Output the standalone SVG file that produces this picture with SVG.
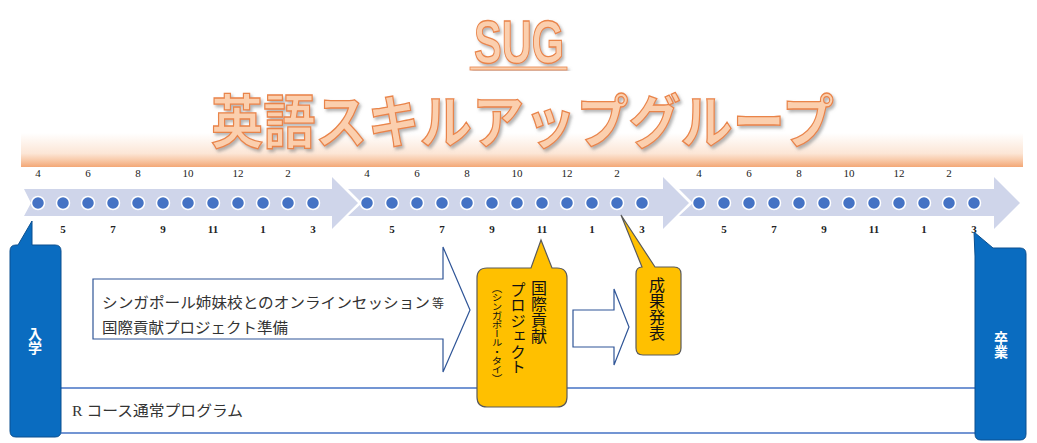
<svg xmlns="http://www.w3.org/2000/svg" width="1037" height="443" viewBox="0 0 1037 443">
<defs>
<style>
.num{font-family:"Liberation Serif",serif;font-size:11px;fill:#222;text-anchor:middle}
.numb{font-family:"Liberation Serif",serif;font-size:11px;fill:#222;text-anchor:middle;font-weight:bold}
.dot{fill:#4472c4;stroke:#fff;stroke-width:1.5}
.tl{fill:#cfd5ea}
.jp{font-family:"Liberation Serif","Noto Sans CJK JP",serif;fill:#333}
.vt{font-family:"Noto Sans CJK JP",sans-serif;writing-mode:vertical-rl;fill:#111}
.wt{font-family:"Noto Sans CJK JP",sans-serif;font-weight:bold;fill:#fff;font-size:14px;writing-mode:vertical-rl}
.hollow{fill:#fff;stroke:#2f5597;stroke-width:1.2}
.blue{fill:#0a6cc0;stroke:#0b4f8f;stroke-width:1}
.orange{fill:#ffc000;stroke:#5a5a5a;stroke-width:1.2}
.rule{stroke:#4472c4;stroke-width:1.6;fill:none}
.ttl{fill:#fbcfae;stroke:#e9844a;stroke-width:1.3;font-weight:bold}
</style>
<linearGradient id="band" x1="0" y1="0" x2="0" y2="1">
<stop offset="0" stop-color="#ffffff"/>
<stop offset="0.6" stop-color="#fce6d6"/>
<stop offset="0.8" stop-color="#f8c9a8"/>
<stop offset="1" stop-color="#f3a776"/>
</linearGradient>
<filter id="sh" x="-10%" y="-10%" width="130%" height="140%">
<feDropShadow dx="2" dy="2.5" stdDeviation="1.5" flood-color="#777" flood-opacity="0.55"/>
</filter>
</defs>

<g id="title">
<rect x="21" y="133" width="1002" height="34" fill="url(#band)"/>
<text class="ttl" x="474" y="63" font-family="Liberation Sans,sans-serif" font-size="62" textLength="90" lengthAdjust="spacingAndGlyphs" filter="url(#sh)">SUG</text>
<rect x="470" y="67" width="97" height="3" fill="#fbcfae" stroke="#e9844a" stroke-width="0.8" filter="url(#sh)"/>
<text class="ttl" x="211" y="143" font-family="Noto Sans CJK JP,sans-serif" font-size="58" textLength="623" lengthAdjust="spacingAndGlyphs" filter="url(#sh)">英語スキルアップグループ</text>
</g>

<g id="timeline">
<path class="tl" d="M24,189 L332,189 L332,177 L358,203 L332,229 L332,216 L24,216 L31,203 Z"/>
<path class="tl" d="M348,189 L663,189 L663,177 L689,203 L663,229 L663,216 L348,216 L362,203 Z"/>
<path class="tl" d="M679,189 L994,189 L994,177 L1020,203 L994,229 L994,216 L679,216 L693,203 Z"/>
<g id="dots">
<circle class="dot" cx="38" cy="203" r="6.5"/><circle class="dot" cx="63" cy="203" r="6.5"/><circle class="dot" cx="88" cy="203" r="6.5"/><circle class="dot" cx="113" cy="203" r="6.5"/><circle class="dot" cx="138" cy="203" r="6.5"/><circle class="dot" cx="163" cy="203" r="6.5"/><circle class="dot" cx="188" cy="203" r="6.5"/><circle class="dot" cx="213" cy="203" r="6.5"/><circle class="dot" cx="238" cy="203" r="6.5"/><circle class="dot" cx="263" cy="203" r="6.5"/><circle class="dot" cx="288" cy="203" r="6.5"/><circle class="dot" cx="313" cy="203" r="6.5"/>
<circle class="dot" cx="367" cy="203" r="6.5"/><circle class="dot" cx="392" cy="203" r="6.5"/><circle class="dot" cx="417" cy="203" r="6.5"/><circle class="dot" cx="442" cy="203" r="6.5"/><circle class="dot" cx="467" cy="203" r="6.5"/><circle class="dot" cx="492" cy="203" r="6.5"/><circle class="dot" cx="517" cy="203" r="6.5"/><circle class="dot" cx="542" cy="203" r="6.5"/><circle class="dot" cx="567" cy="203" r="6.5"/><circle class="dot" cx="592" cy="203" r="6.5"/><circle class="dot" cx="617" cy="203" r="6.5"/><circle class="dot" cx="642" cy="203" r="6.5"/>
<circle class="dot" cx="699" cy="203" r="6.5"/><circle class="dot" cx="724" cy="203" r="6.5"/><circle class="dot" cx="749" cy="203" r="6.5"/><circle class="dot" cx="774" cy="203" r="6.5"/><circle class="dot" cx="799" cy="203" r="6.5"/><circle class="dot" cx="824" cy="203" r="6.5"/><circle class="dot" cx="849" cy="203" r="6.5"/><circle class="dot" cx="874" cy="203" r="6.5"/><circle class="dot" cx="899" cy="203" r="6.5"/><circle class="dot" cx="924" cy="203" r="6.5"/><circle class="dot" cx="949" cy="203" r="6.5"/><circle class="dot" cx="974" cy="203" r="6.5"/>
</g>
<g id="months">
<text class="num" x="38" y="177">4</text><text class="num" x="88" y="177">6</text><text class="num" x="138" y="177">8</text><text class="num" x="188" y="177">10</text><text class="num" x="238" y="177">12</text><text class="num" x="288" y="177">2</text>
<text class="num" x="367" y="177">4</text><text class="num" x="417" y="177">6</text><text class="num" x="467" y="177">8</text><text class="num" x="517" y="177">10</text><text class="num" x="567" y="177">12</text><text class="num" x="617" y="177">2</text>
<text class="num" x="699" y="177">4</text><text class="num" x="749" y="177">6</text><text class="num" x="799" y="177">8</text><text class="num" x="849" y="177">10</text><text class="num" x="899" y="177">12</text><text class="num" x="949" y="177">2</text>
<text class="numb" x="63" y="233">5</text><text class="numb" x="113" y="233">7</text><text class="numb" x="163" y="233">9</text><text class="numb" x="213" y="233">11</text><text class="numb" x="263" y="233">1</text><text class="numb" x="313" y="233">3</text>
<text class="numb" x="392" y="233">5</text><text class="numb" x="442" y="233">7</text><text class="numb" x="492" y="233">9</text><text class="numb" x="542" y="233">11</text><text class="numb" x="592" y="233">1</text><text class="numb" x="642" y="233">3</text>
<text class="numb" x="724" y="233">5</text><text class="numb" x="774" y="233">7</text><text class="numb" x="824" y="233">9</text><text class="numb" x="874" y="233">11</text><text class="numb" x="924" y="233">1</text><text class="numb" x="974" y="233">3</text>
</g>
</g>

<g id="connectors">
<line class="rule" x1="61" y1="388" x2="975" y2="388"/>
<line class="rule" x1="61" y1="433" x2="975" y2="433"/>
</g>

<g id="rcourse">
<text class="jp" x="72" y="416" font-size="15" textLength="171" lengthAdjust="spacingAndGlyphs">R コース通常プログラム</text>
</g>

<g id="prep">
<path class="hollow" d="M93,279 L443,279 L443,247 L470,310 L443,372 L443,339 L93,339 Z"/>
<text class="jp" x="102" y="308" font-size="15" textLength="328" lengthAdjust="spacingAndGlyphs">シンガポール姉妹校とのオンラインセッション</text>
<text class="jp" x="432" y="308" font-size="12">等</text>
<text class="jp" x="102" y="333" font-size="15" textLength="186" lengthAdjust="spacingAndGlyphs">国際貢献プロジェクト準備</text>
</g>

<g id="nyugaku">
<path class="blue" d="M16,245 L18,245 L32,221 L32,245 L55,245 Q61,245 61,251 L61,431 Q61,437 55,437 L16,437 Q10,437 10,431 L10,251 Q10,245 16,245 Z"/>
<text class="wt" x="35" y="327">入学</text>
</g>

<g id="sotsugyo">
<path class="blue" d="M975,256 L974,232 L993,248 L1020,248 Q1026,248 1026,254 L1026,434 Q1026,440 1020,440 L981,440 Q975,440 975,434 Z"/>
<text class="wt" x="1001" y="331">卒業</text>
</g>

<g id="project">
<path class="orange" d="M487,268 L531,268 L541,240 L552,268 L557,268 Q567,268 567,278 L567,397 Q567,407 557,407 L487,407 Q477,407 477,397 L477,278 Q477,268 487,268 Z"/>
<text class="vt" x="539" y="280" font-size="16">国際貢献</text>
<text class="vt" x="518" y="282" font-size="15.5">プロジェクト</text>
<text class="vt" x="497" y="284" font-size="10.5" textLength="99" lengthAdjust="spacingAndGlyphs">（シンガポール・タイ）</text>
</g>

<g id="arrow2">
<path class="hollow" d="M573,310 L614,310 L614,289 L629,327 L614,365 L614,347 L573,347 Z"/>
</g>

<g id="seika">
<path class="orange" d="M642,267 L621,215 L655,267 L674,267 Q681,267 681,274 L681,348 Q681,355 674,355 L643,355 Q636,355 636,348 L636,274 Q636,267 642,267 Z"/>
<text class="vt" x="657" y="277" font-size="16">成果発表</text>
</g>
</svg>
